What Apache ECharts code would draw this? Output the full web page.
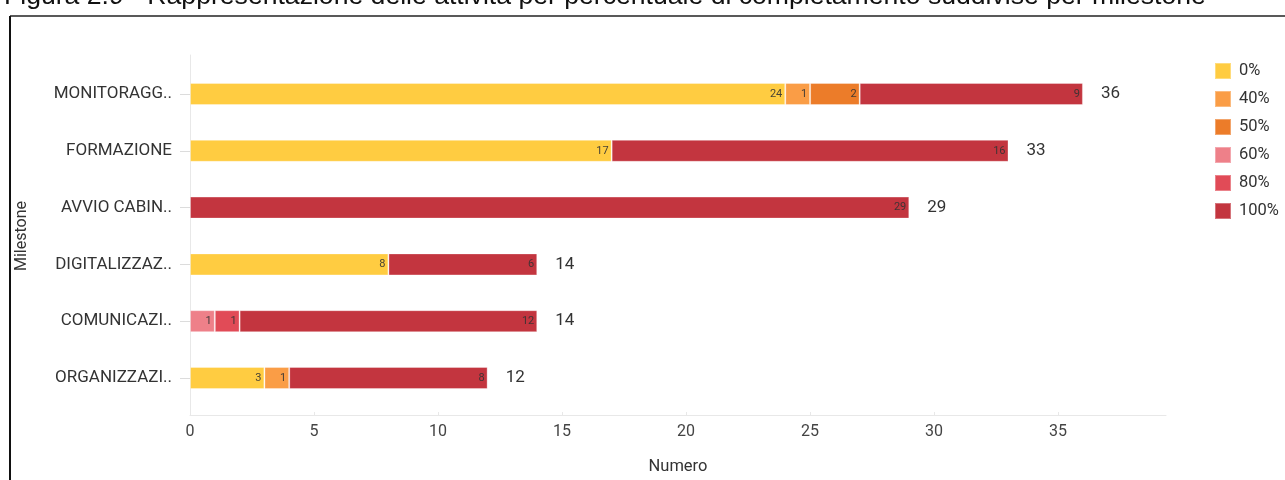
<!DOCTYPE html>
<html><head><meta charset="utf-8">
<script src="https://cdn.jsdelivr.net/npm/echarts@6/dist/echarts.min.js"></script>
<style>html,body{margin:0;padding:0;background:#fff}#c{width:1285px;height:480px}</style>
</head><body><div id="c"></div>
<script>
const categories = ['MONITORAGG..', 'FORMAZIONE', 'AVVIO CABIN..', 'DIGITALIZZAZ..', 'COMUNICAZI..', 'ORGANIZZAZI..'];
const seriesNames = ['0%', '40%', '50%', '60%', '80%', '100%'];
const colors = ['#FFC72C', '#F99232', '#EA6E12', '#EC727C', '#DE3745', '#BD1F2A'];
const v0 = [24, 17, 0, 8, 0, 3];
const v40 = [1, 0, 0, 0, 0, 1];
const v50 = [2, 0, 0, 0, 0, 0];
const v60 = [0, 0, 0, 0, 1, 0];
const v80 = [0, 0, 0, 0, 1, 0];
const v100 = [9, 16, 29, 6, 12, 8];
const xTicks = [0, 5, 10, 15, 20, 25, 30, 35];
const titleText = 'Figura 2.9 - Rappresentazione delle attività per percentuale di completamento suddivise per milestone';

const values = [v0, v40, v50, v60, v80, v100];
const totals = categories.map((c, i) => values.reduce((s, arr) => s + arr[i], 0));
const XMAX = 39.35;
const FONT = 'Roboto';

const series = values.map((arr, k) => ({
  name: seriesNames[k], type: 'bar', stack: 'total', barWidth: 22,
  xAxisIndex: 0, yAxisIndex: 0,
  data: arr.map(v => v === 0 ? null : v),
  itemStyle: { color: colors[k], opacity: 0.9, borderColor: 'rgba(255,255,255,0.35)', borderWidth: 1 },
  label: { show: true, position: 'insideRight', distance: 3, fontSize: 11, color: '#333', fontFamily: FONT },
  emphasis: { disabled: true }
}));
series.push({
  name: 'totale', type: 'bar', barWidth: 22, barGap: '-100%', z: 1,
  xAxisIndex: 0, yAxisIndex: 0,
  data: totals,
  itemStyle: { color: 'rgba(0,0,0,0)' },
  label: { show: true, position: 'right', distance: 18, fontSize: 17, color: '#333', fontFamily: FONT },
  emphasis: { disabled: true }
});

const chart = echarts.init(document.getElementById('c'));
chart.setOption({
  animation: false,
  title: { text: titleText, left: -1, top: -22, textStyle: { fontFamily: 'Liberation Sans', fontSize: 26.6, fontWeight: 'normal', color: '#111' } },
  graphic: [
    { type: 'line', shape: { x1: 10, y1: 16, x2: 1285, y2: 16 }, style: { stroke: '#222', lineWidth: 1.5 } },
    { type: 'line', shape: { x1: 10, y1: 16, x2: 10, y2: 480 }, style: { stroke: '#111', lineWidth: 2 } }
  ],
  legend: {
    data: seriesNames, orient: 'vertical', left: 1209, top: 57,
    itemWidth: 16, itemHeight: 16, itemGap: 10, icon: 'rect',
    textStyle: { fontSize: 16.5, color: '#333', fontFamily: FONT, padding: [0, 0, 0, 3] }
  },
  grid: [
    { left: 190, right: 119, top: 65.6, bottom: 73.6, containLabel: false },
    { left: 190, right: 119, top: 55, bottom: 64, containLabel: false }
  ],
  xAxis: [
    { type: 'value', gridIndex: 0, min: 0, max: XMAX, show: false },
    { type: 'value', gridIndex: 1, min: 0, max: XMAX, interval: 5,
      name: 'Numero', nameLocation: 'middle', nameGap: 43,
      nameTextStyle: { fontSize: 16.5, color: '#333', fontFamily: FONT },
      axisLine: { show: true, lineStyle: { color: '#e8e8e8', width: 1 } },
      axisTick: { show: true, inside: true, length: 3, lineStyle: { color: '#e8e8e8' } },
      splitLine: { show: false },
      axisLabel: { fontSize: 16, color: '#444', fontFamily: FONT, margin: 9, showMaxLabel: false,
        formatter: v => xTicks.includes(v) ? String(v) : '' } }
  ],
  yAxis: [
    { type: 'category', gridIndex: 0, data: categories, inverse: true,
      name: 'Milestone', nameLocation: 'middle', nameGap: 160, nameRotate: 90,
      nameTextStyle: { fontSize: 16, color: '#333', fontFamily: FONT },
      axisLine: { show: false },
      axisTick: { show: true, alignWithLabel: true, length: 10, lineStyle: { color: '#dcdcdc' } },
      axisLabel: { fontSize: 17, color: '#333', fontFamily: FONT, margin: 18 } },
    { type: 'value', gridIndex: 1, min: 0, max: 1, axisLabel: { show: false }, axisTick: { show: false },
      splitLine: { show: false }, axisLine: { show: true, lineStyle: { color: '#e8e8e8', width: 1 } } }
  ],
  series: series
});
</script></body></html>
